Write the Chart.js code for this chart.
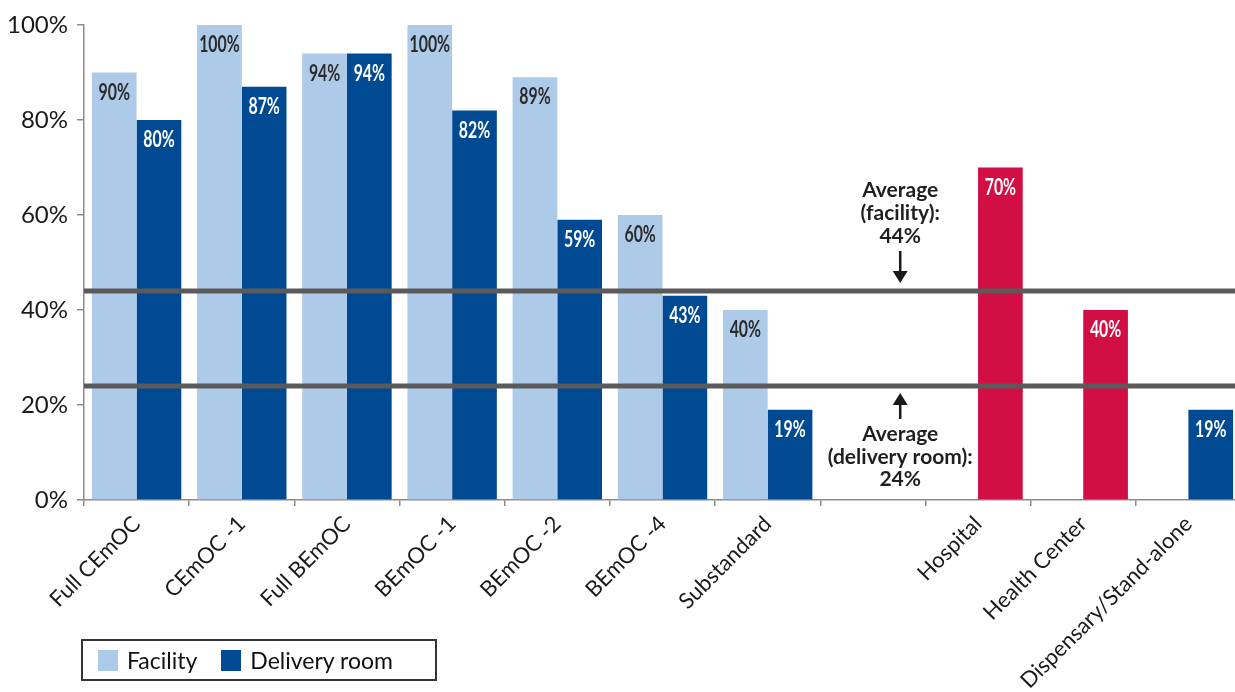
<!DOCTYPE html>
<html>
<head>
<meta charset="utf-8">
<script src="https://cdn.jsdelivr.net/npm/chart.js@4.4.1/dist/chart.umd.min.js"></script>
<style>
    body { margin: 0; overflow: hidden; background: #fff; font-family: Lato, "DejaVu Sans", sans-serif; }
    #wrap { position: relative; width: 1235px; height: 692px; overflow: hidden; }
    #legend {
        position: absolute; left: 81px; top: 639px; width: 352px; height: 38px;
        border: 2px solid #333; display: flex; align-items: center; font-size: 23px; color: #111;
    }
    #legend .item { display: flex; align-items: center; }
    #legend .box { width: 20px; height: 21px; margin-right: 9px; }
</style>
</head>
<body>
<div id="wrap">
    <canvas id="myChart" width="1245" height="692"></canvas>
    <div id="legend"></div>
</div>
<script>
// ---------------------------------- data ----------------------------------
const categories = ['Full CEmOC', 'CEmOC -1', 'Full BEmOC', 'BEmOC -1', 'BEmOC -2', 'BEmOC -4', 'Substandard', '', 'Hospital', 'Health Center', 'Dispensary/Stand-alone'];
const facilityValues = [90, 100, 94, 100, 89, 60, 40, null, null, null, null];
const deliveryValues = [80, 87, 94, 82, 59, 43, 19, null, 70, 40, 19];
const hospitalLevels = ['Hospital', 'Health Center'];
const avgFacility = 44;
const avgDelivery = 24;
const yTicks = [0, 20, 40, 60, 80, 100];

const LIGHT = '#aecae9';
const DARK = '#004a93';
const RED = '#d20f44';

// ---------------------------------- legend --------------------------------
const buildLegend = () => {
    const legend = document.querySelector('#legend');
    [['Facility', LIGHT], ['Delivery room', DARK]].forEach(([name, color], i) => {
        const item = document.createElement('div');
        item.className = 'item';
        item.style.marginLeft = i === 0 ? '15px' : '24px';
        const box = document.createElement('span');
        box.className = 'box';
        box.style.background = color;
        const label = document.createElement('span');
        label.innerText = name;
        item.appendChild(box);
        item.appendChild(label);
        legend.appendChild(item);
    });
};

// ------------------------------ drawing helpers ---------------------------
const drawArrow = (ctx, x, fromY, tipY) => {
    const dir = tipY > fromY ? 1 : -1;
    ctx.strokeStyle = '#1a1a1a';
    ctx.fillStyle = '#1a1a1a';
    ctx.lineWidth = 2.5;
    ctx.beginPath();
    ctx.moveTo(x, fromY);
    ctx.lineTo(x, tipY - dir * 10);
    ctx.stroke();
    ctx.beginPath();
    ctx.moveTo(x, tipY);
    ctx.lineTo(x - 7.5, tipY - dir * 12);
    ctx.lineTo(x + 7.5, tipY - dir * 12);
    ctx.closePath();
    ctx.fill();
};

const drawLines = (ctx, x, lines, offsets, baseY) => {
    ctx.font = 'bold 21px Lato';
    ctx.fillStyle = '#1f1f1f';
    ctx.textAlign = 'center';
    ctx.textBaseline = 'middle';
    lines.forEach((t, i) => ctx.fillText(t, x, baseY + offsets[i]));
};

const overlayPlugin = {
    id: 'overlay',
    afterDatasetsDraw(chart) {
        const { ctx, chartArea, scales: { x, y } } = chart;
        ctx.save();

        // average lines
        const fy = y.getPixelForValue(avgFacility);
        const dy = y.getPixelForValue(avgDelivery);
        ctx.strokeStyle = '#5a5a5a';
        ctx.lineWidth = 5;
        [fy, dy].forEach(ly => {
            ctx.beginPath();
            ctx.moveTo(chartArea.left, ly);
            ctx.lineTo(chartArea.right, ly);
            ctx.stroke();
        });

        // annotations between Substandard and Hospital
        const step = x.getPixelForValue(8) - x.getPixelForValue(7);
        const ax = x.getPixelForValue(7) + step * 0.26;
        drawArrow(ctx, ax, fy - 40, fy - 8);
        drawLines(ctx, ax, ['Average', '(facility):', avgFacility + '%'], [-101, -78, -55], fy);
        drawArrow(ctx, ax, dy + 33, dy + 7);
        drawLines(ctx, ax, ['Average', '(delivery room):', avgDelivery + '%'], [48, 71, 93], dy);

        // value labels inside the bars
        chart.data.datasets.forEach((ds, i) => {
            const meta = chart.getDatasetMeta(i);
            meta.data.forEach((bar, j) => {
                const v = ds.data[j];
                if (v == null) return;
                ctx.save();
                ctx.translate(bar.x, bar.y + 20);
                ctx.scale(0.72, 1);
                ctx.font = 'bold 22px Lato';
                ctx.fillStyle = i === 0 ? '#2b2b2b' : '#ffffff';
                ctx.textAlign = 'center';
                ctx.textBaseline = 'middle';
                ctx.fillText(v + '%', 0, 0);
                ctx.restore();
            });
        });
        ctx.restore();
    }
};

// ---------------------------------- chart ---------------------------------
const drawChart = () => {
    const ctx = document.getElementById('myChart');
    new Chart(ctx, {
        type: 'bar',
        data: {
            labels: categories,
            datasets: [{
                label: 'Facility',
                data: facilityValues,
                backgroundColor: LIGHT
            }, {
                label: 'Delivery room',
                data: deliveryValues,
                backgroundColor: categories.map(c => hospitalLevels.includes(c) ? RED : DARK)
            }]
        },
        options: {
            responsive: false,
            animation: false,
            events: [],
            layout: { padding: { top: 25, right: 4, left: 0, bottom: 0 } },
            datasets: { bar: { categoryPercentage: 0.85, barPercentage: 1.0, borderWidth: 0 } },
            plugins: { legend: { display: false }, tooltip: { enabled: false } },
            scales: {
                x: {
                    grid: { drawOnChartArea: false, drawTicks: true, tickLength: 6, color: '#8c8c8c', lineWidth: 1.5 },
                    border: { display: true, color: '#8c8c8c', width: 1.5 },
                    ticks: {
                        minRotation: 45, maxRotation: 45, autoSkip: false, padding: 5,
                        color: '#1a1a1a', font: { family: 'Lato', size: 22 }
                    },
                    afterFit: scale => { scale.height = 192; }
                },
                y: {
                    min: 0, max: 100,
                    afterBuildTicks: scale => { scale.ticks = yTicks.map(v => ({ value: v })); },
                    grid: { drawOnChartArea: false, drawTicks: true, tickLength: 7, color: '#8c8c8c', lineWidth: 1.5 },
                    border: { display: true, color: '#8c8c8c', width: 1.5 },
                    ticks: {
                        padding: 9, color: '#1a1a1a', font: { family: 'Lato', size: 24 },
                        callback: v => v + '%'
                    },
                    afterFit: scale => { scale.width = 84; }
                }
            }
        },
        plugins: [overlayPlugin]
    });
};

window.addEventListener('load', () => {
    buildLegend();
    drawChart();
});
</script>
</body>
</html>
